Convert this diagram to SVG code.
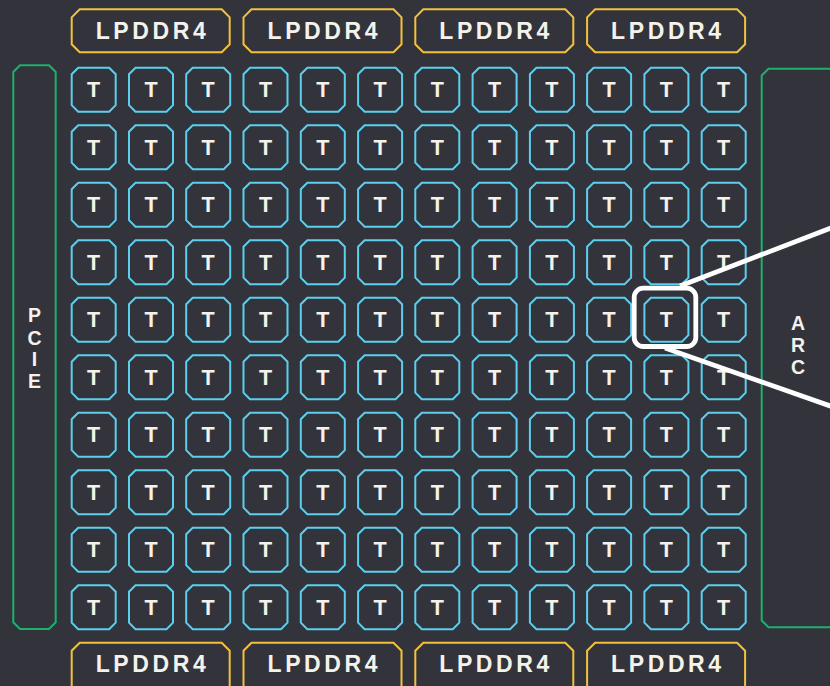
<svg xmlns="http://www.w3.org/2000/svg" xmlns:xlink="http://www.w3.org/1999/xlink" width="830" height="686" viewBox="0 0 830 686">
<style>
.tile{fill:none;stroke:#5ccfee;stroke-width:2}
.mem{fill:none;stroke:#f4c13f;stroke-width:2}
.io{fill:none;stroke:#1db070;stroke-width:2}
.tl{font-family:"Liberation Sans",Arial,sans-serif;font-weight:bold;font-size:21.5px;fill:#f4f2ea;text-anchor:middle}
.ml{font-family:"Liberation Sans",Arial,sans-serif;font-weight:bold;font-size:23px;fill:#f4f2ea;text-anchor:middle;letter-spacing:3.6px}
.vl{font-family:"Liberation Sans",Arial,sans-serif;font-weight:bold;font-size:19.5px;fill:#f4f2ea;text-anchor:middle}
.hl{fill:none;stroke:#ffffff;stroke-width:4.8}
</style>
<defs>
<polygon id="tp" points="6.5,0 37.5,0 44,6.5 44,37.5 37.5,44 6.5,44 0,37.5 0,6.5"/>
<polygon id="mp" points="8,0 150,0 158,8 158,35 150,43 8,43 0,35 0,8"/>
<polygon id="mpb" points="8,0 150,0 158,8 158,60 0,60 0,8"/>
</defs>
<rect x="0" y="0" width="830" height="686" fill="#32333b"/>

<g id="pcie"><polygon class="io" points="20,65.3 49,65.3 55.7,72 55.7,622.3 49,629 20,629 13.3,622.3 13.3,72"/>
<text class="vl"><tspan x="34.5" y="322">P</tspan><tspan x="34.5" y="345">C</tspan><tspan x="34.5" y="366">I</tspan><tspan x="34.5" y="388">E</tspan></text></g>
<g id="arc"><polygon class="io" points="768.5,68.7 850,68.7 850,627.3 768.5,627.3 761.7,620.5 761.7,75.5"/>
<text class="vl"><tspan x="798" y="330">A</tspan><tspan x="798" y="352">R</tspan><tspan x="798" y="374">C</tspan></text></g>

<g id="lpddr4-t1" transform="translate(71.7,9.3)"><use href="#mp" class="mem"/><text class="ml" x="80.8" y="30">LPDDR4</text></g>
<g id="lpddr4-t2" transform="translate(243.5,9.3)"><use href="#mp" class="mem"/><text class="ml" x="80.8" y="30">LPDDR4</text></g>
<g id="lpddr4-t3" transform="translate(415.3,9.3)"><use href="#mp" class="mem"/><text class="ml" x="80.8" y="30">LPDDR4</text></g>
<g id="lpddr4-t4" transform="translate(587.1,9.3)"><use href="#mp" class="mem"/><text class="ml" x="80.8" y="30">LPDDR4</text></g>
<g id="lpddr4-b1" transform="translate(71.7,642.7)"><use href="#mpb" class="mem"/><text class="ml" x="80.8" y="29">LPDDR4</text></g>
<g id="lpddr4-b2" transform="translate(243.5,642.7)"><use href="#mpb" class="mem"/><text class="ml" x="80.8" y="29">LPDDR4</text></g>
<g id="lpddr4-b3" transform="translate(415.3,642.7)"><use href="#mpb" class="mem"/><text class="ml" x="80.8" y="29">LPDDR4</text></g>
<g id="lpddr4-b4" transform="translate(587.1,642.7)"><use href="#mpb" class="mem"/><text class="ml" x="80.8" y="29">LPDDR4</text></g>

<g id="tiles">
<g id="t-0-0" transform="translate(71.7,67.7)"><use href="#tp" class="tile"/><text class="tl" x="22" y="29.5">T</text></g>
<g id="t-0-1" transform="translate(129,67.7)"><use href="#tp" class="tile"/><text class="tl" x="22" y="29.5">T</text></g>
<g id="t-0-2" transform="translate(186.2,67.7)"><use href="#tp" class="tile"/><text class="tl" x="22" y="29.5">T</text></g>
<g id="t-0-3" transform="translate(243.5,67.7)"><use href="#tp" class="tile"/><text class="tl" x="22" y="29.5">T</text></g>
<g id="t-0-4" transform="translate(300.8,67.7)"><use href="#tp" class="tile"/><text class="tl" x="22" y="29.5">T</text></g>
<g id="t-0-5" transform="translate(358.1,67.7)"><use href="#tp" class="tile"/><text class="tl" x="22" y="29.5">T</text></g>
<g id="t-0-6" transform="translate(415.3,67.7)"><use href="#tp" class="tile"/><text class="tl" x="22" y="29.5">T</text></g>
<g id="t-0-7" transform="translate(472.6,67.7)"><use href="#tp" class="tile"/><text class="tl" x="22" y="29.5">T</text></g>
<g id="t-0-8" transform="translate(529.9,67.7)"><use href="#tp" class="tile"/><text class="tl" x="22" y="29.5">T</text></g>
<g id="t-0-9" transform="translate(587.1,67.7)"><use href="#tp" class="tile"/><text class="tl" x="22" y="29.5">T</text></g>
<g id="t-0-10" transform="translate(644.4,67.7)"><use href="#tp" class="tile"/><text class="tl" x="22" y="29.5">T</text></g>
<g id="t-0-11" transform="translate(701.7,67.7)"><use href="#tp" class="tile"/><text class="tl" x="22" y="29.5">T</text></g>
<g id="t-1-0" transform="translate(71.7,125.2)"><use href="#tp" class="tile"/><text class="tl" x="22" y="29.5">T</text></g>
<g id="t-1-1" transform="translate(129,125.2)"><use href="#tp" class="tile"/><text class="tl" x="22" y="29.5">T</text></g>
<g id="t-1-2" transform="translate(186.2,125.2)"><use href="#tp" class="tile"/><text class="tl" x="22" y="29.5">T</text></g>
<g id="t-1-3" transform="translate(243.5,125.2)"><use href="#tp" class="tile"/><text class="tl" x="22" y="29.5">T</text></g>
<g id="t-1-4" transform="translate(300.8,125.2)"><use href="#tp" class="tile"/><text class="tl" x="22" y="29.5">T</text></g>
<g id="t-1-5" transform="translate(358.1,125.2)"><use href="#tp" class="tile"/><text class="tl" x="22" y="29.5">T</text></g>
<g id="t-1-6" transform="translate(415.3,125.2)"><use href="#tp" class="tile"/><text class="tl" x="22" y="29.5">T</text></g>
<g id="t-1-7" transform="translate(472.6,125.2)"><use href="#tp" class="tile"/><text class="tl" x="22" y="29.5">T</text></g>
<g id="t-1-8" transform="translate(529.9,125.2)"><use href="#tp" class="tile"/><text class="tl" x="22" y="29.5">T</text></g>
<g id="t-1-9" transform="translate(587.1,125.2)"><use href="#tp" class="tile"/><text class="tl" x="22" y="29.5">T</text></g>
<g id="t-1-10" transform="translate(644.4,125.2)"><use href="#tp" class="tile"/><text class="tl" x="22" y="29.5">T</text></g>
<g id="t-1-11" transform="translate(701.7,125.2)"><use href="#tp" class="tile"/><text class="tl" x="22" y="29.5">T</text></g>
<g id="t-2-0" transform="translate(71.7,182.7)"><use href="#tp" class="tile"/><text class="tl" x="22" y="29.5">T</text></g>
<g id="t-2-1" transform="translate(129,182.7)"><use href="#tp" class="tile"/><text class="tl" x="22" y="29.5">T</text></g>
<g id="t-2-2" transform="translate(186.2,182.7)"><use href="#tp" class="tile"/><text class="tl" x="22" y="29.5">T</text></g>
<g id="t-2-3" transform="translate(243.5,182.7)"><use href="#tp" class="tile"/><text class="tl" x="22" y="29.5">T</text></g>
<g id="t-2-4" transform="translate(300.8,182.7)"><use href="#tp" class="tile"/><text class="tl" x="22" y="29.5">T</text></g>
<g id="t-2-5" transform="translate(358.1,182.7)"><use href="#tp" class="tile"/><text class="tl" x="22" y="29.5">T</text></g>
<g id="t-2-6" transform="translate(415.3,182.7)"><use href="#tp" class="tile"/><text class="tl" x="22" y="29.5">T</text></g>
<g id="t-2-7" transform="translate(472.6,182.7)"><use href="#tp" class="tile"/><text class="tl" x="22" y="29.5">T</text></g>
<g id="t-2-8" transform="translate(529.9,182.7)"><use href="#tp" class="tile"/><text class="tl" x="22" y="29.5">T</text></g>
<g id="t-2-9" transform="translate(587.1,182.7)"><use href="#tp" class="tile"/><text class="tl" x="22" y="29.5">T</text></g>
<g id="t-2-10" transform="translate(644.4,182.7)"><use href="#tp" class="tile"/><text class="tl" x="22" y="29.5">T</text></g>
<g id="t-2-11" transform="translate(701.7,182.7)"><use href="#tp" class="tile"/><text class="tl" x="22" y="29.5">T</text></g>
<g id="t-3-0" transform="translate(71.7,240.2)"><use href="#tp" class="tile"/><text class="tl" x="22" y="29.5">T</text></g>
<g id="t-3-1" transform="translate(129,240.2)"><use href="#tp" class="tile"/><text class="tl" x="22" y="29.5">T</text></g>
<g id="t-3-2" transform="translate(186.2,240.2)"><use href="#tp" class="tile"/><text class="tl" x="22" y="29.5">T</text></g>
<g id="t-3-3" transform="translate(243.5,240.2)"><use href="#tp" class="tile"/><text class="tl" x="22" y="29.5">T</text></g>
<g id="t-3-4" transform="translate(300.8,240.2)"><use href="#tp" class="tile"/><text class="tl" x="22" y="29.5">T</text></g>
<g id="t-3-5" transform="translate(358.1,240.2)"><use href="#tp" class="tile"/><text class="tl" x="22" y="29.5">T</text></g>
<g id="t-3-6" transform="translate(415.3,240.2)"><use href="#tp" class="tile"/><text class="tl" x="22" y="29.5">T</text></g>
<g id="t-3-7" transform="translate(472.6,240.2)"><use href="#tp" class="tile"/><text class="tl" x="22" y="29.5">T</text></g>
<g id="t-3-8" transform="translate(529.9,240.2)"><use href="#tp" class="tile"/><text class="tl" x="22" y="29.5">T</text></g>
<g id="t-3-9" transform="translate(587.1,240.2)"><use href="#tp" class="tile"/><text class="tl" x="22" y="29.5">T</text></g>
<g id="t-3-10" transform="translate(644.4,240.2)"><use href="#tp" class="tile"/><text class="tl" x="22" y="29.5">T</text></g>
<g id="t-3-11" transform="translate(701.7,240.2)"><use href="#tp" class="tile"/><text class="tl" x="22" y="29.5">T</text></g>
<g id="t-4-0" transform="translate(71.7,297.7)"><use href="#tp" class="tile"/><text class="tl" x="22" y="29.5">T</text></g>
<g id="t-4-1" transform="translate(129,297.7)"><use href="#tp" class="tile"/><text class="tl" x="22" y="29.5">T</text></g>
<g id="t-4-2" transform="translate(186.2,297.7)"><use href="#tp" class="tile"/><text class="tl" x="22" y="29.5">T</text></g>
<g id="t-4-3" transform="translate(243.5,297.7)"><use href="#tp" class="tile"/><text class="tl" x="22" y="29.5">T</text></g>
<g id="t-4-4" transform="translate(300.8,297.7)"><use href="#tp" class="tile"/><text class="tl" x="22" y="29.5">T</text></g>
<g id="t-4-5" transform="translate(358.1,297.7)"><use href="#tp" class="tile"/><text class="tl" x="22" y="29.5">T</text></g>
<g id="t-4-6" transform="translate(415.3,297.7)"><use href="#tp" class="tile"/><text class="tl" x="22" y="29.5">T</text></g>
<g id="t-4-7" transform="translate(472.6,297.7)"><use href="#tp" class="tile"/><text class="tl" x="22" y="29.5">T</text></g>
<g id="t-4-8" transform="translate(529.9,297.7)"><use href="#tp" class="tile"/><text class="tl" x="22" y="29.5">T</text></g>
<g id="t-4-9" transform="translate(587.1,297.7)"><use href="#tp" class="tile"/><text class="tl" x="22" y="29.5">T</text></g>
<g id="t-4-10" transform="translate(644.4,297.7)"><use href="#tp" class="tile"/><text class="tl" x="22" y="29.5">T</text></g>
<g id="t-4-11" transform="translate(701.7,297.7)"><use href="#tp" class="tile"/><text class="tl" x="22" y="29.5">T</text></g>
<g id="t-5-0" transform="translate(71.7,355.2)"><use href="#tp" class="tile"/><text class="tl" x="22" y="29.5">T</text></g>
<g id="t-5-1" transform="translate(129,355.2)"><use href="#tp" class="tile"/><text class="tl" x="22" y="29.5">T</text></g>
<g id="t-5-2" transform="translate(186.2,355.2)"><use href="#tp" class="tile"/><text class="tl" x="22" y="29.5">T</text></g>
<g id="t-5-3" transform="translate(243.5,355.2)"><use href="#tp" class="tile"/><text class="tl" x="22" y="29.5">T</text></g>
<g id="t-5-4" transform="translate(300.8,355.2)"><use href="#tp" class="tile"/><text class="tl" x="22" y="29.5">T</text></g>
<g id="t-5-5" transform="translate(358.1,355.2)"><use href="#tp" class="tile"/><text class="tl" x="22" y="29.5">T</text></g>
<g id="t-5-6" transform="translate(415.3,355.2)"><use href="#tp" class="tile"/><text class="tl" x="22" y="29.5">T</text></g>
<g id="t-5-7" transform="translate(472.6,355.2)"><use href="#tp" class="tile"/><text class="tl" x="22" y="29.5">T</text></g>
<g id="t-5-8" transform="translate(529.9,355.2)"><use href="#tp" class="tile"/><text class="tl" x="22" y="29.5">T</text></g>
<g id="t-5-9" transform="translate(587.1,355.2)"><use href="#tp" class="tile"/><text class="tl" x="22" y="29.5">T</text></g>
<g id="t-5-10" transform="translate(644.4,355.2)"><use href="#tp" class="tile"/><text class="tl" x="22" y="29.5">T</text></g>
<g id="t-5-11" transform="translate(701.7,355.2)"><use href="#tp" class="tile"/><text class="tl" x="22" y="29.5">T</text></g>
<g id="t-6-0" transform="translate(71.7,412.7)"><use href="#tp" class="tile"/><text class="tl" x="22" y="29.5">T</text></g>
<g id="t-6-1" transform="translate(129,412.7)"><use href="#tp" class="tile"/><text class="tl" x="22" y="29.5">T</text></g>
<g id="t-6-2" transform="translate(186.2,412.7)"><use href="#tp" class="tile"/><text class="tl" x="22" y="29.5">T</text></g>
<g id="t-6-3" transform="translate(243.5,412.7)"><use href="#tp" class="tile"/><text class="tl" x="22" y="29.5">T</text></g>
<g id="t-6-4" transform="translate(300.8,412.7)"><use href="#tp" class="tile"/><text class="tl" x="22" y="29.5">T</text></g>
<g id="t-6-5" transform="translate(358.1,412.7)"><use href="#tp" class="tile"/><text class="tl" x="22" y="29.5">T</text></g>
<g id="t-6-6" transform="translate(415.3,412.7)"><use href="#tp" class="tile"/><text class="tl" x="22" y="29.5">T</text></g>
<g id="t-6-7" transform="translate(472.6,412.7)"><use href="#tp" class="tile"/><text class="tl" x="22" y="29.5">T</text></g>
<g id="t-6-8" transform="translate(529.9,412.7)"><use href="#tp" class="tile"/><text class="tl" x="22" y="29.5">T</text></g>
<g id="t-6-9" transform="translate(587.1,412.7)"><use href="#tp" class="tile"/><text class="tl" x="22" y="29.5">T</text></g>
<g id="t-6-10" transform="translate(644.4,412.7)"><use href="#tp" class="tile"/><text class="tl" x="22" y="29.5">T</text></g>
<g id="t-6-11" transform="translate(701.7,412.7)"><use href="#tp" class="tile"/><text class="tl" x="22" y="29.5">T</text></g>
<g id="t-7-0" transform="translate(71.7,470.2)"><use href="#tp" class="tile"/><text class="tl" x="22" y="29.5">T</text></g>
<g id="t-7-1" transform="translate(129,470.2)"><use href="#tp" class="tile"/><text class="tl" x="22" y="29.5">T</text></g>
<g id="t-7-2" transform="translate(186.2,470.2)"><use href="#tp" class="tile"/><text class="tl" x="22" y="29.5">T</text></g>
<g id="t-7-3" transform="translate(243.5,470.2)"><use href="#tp" class="tile"/><text class="tl" x="22" y="29.5">T</text></g>
<g id="t-7-4" transform="translate(300.8,470.2)"><use href="#tp" class="tile"/><text class="tl" x="22" y="29.5">T</text></g>
<g id="t-7-5" transform="translate(358.1,470.2)"><use href="#tp" class="tile"/><text class="tl" x="22" y="29.5">T</text></g>
<g id="t-7-6" transform="translate(415.3,470.2)"><use href="#tp" class="tile"/><text class="tl" x="22" y="29.5">T</text></g>
<g id="t-7-7" transform="translate(472.6,470.2)"><use href="#tp" class="tile"/><text class="tl" x="22" y="29.5">T</text></g>
<g id="t-7-8" transform="translate(529.9,470.2)"><use href="#tp" class="tile"/><text class="tl" x="22" y="29.5">T</text></g>
<g id="t-7-9" transform="translate(587.1,470.2)"><use href="#tp" class="tile"/><text class="tl" x="22" y="29.5">T</text></g>
<g id="t-7-10" transform="translate(644.4,470.2)"><use href="#tp" class="tile"/><text class="tl" x="22" y="29.5">T</text></g>
<g id="t-7-11" transform="translate(701.7,470.2)"><use href="#tp" class="tile"/><text class="tl" x="22" y="29.5">T</text></g>
<g id="t-8-0" transform="translate(71.7,527.7)"><use href="#tp" class="tile"/><text class="tl" x="22" y="29.5">T</text></g>
<g id="t-8-1" transform="translate(129,527.7)"><use href="#tp" class="tile"/><text class="tl" x="22" y="29.5">T</text></g>
<g id="t-8-2" transform="translate(186.2,527.7)"><use href="#tp" class="tile"/><text class="tl" x="22" y="29.5">T</text></g>
<g id="t-8-3" transform="translate(243.5,527.7)"><use href="#tp" class="tile"/><text class="tl" x="22" y="29.5">T</text></g>
<g id="t-8-4" transform="translate(300.8,527.7)"><use href="#tp" class="tile"/><text class="tl" x="22" y="29.5">T</text></g>
<g id="t-8-5" transform="translate(358.1,527.7)"><use href="#tp" class="tile"/><text class="tl" x="22" y="29.5">T</text></g>
<g id="t-8-6" transform="translate(415.3,527.7)"><use href="#tp" class="tile"/><text class="tl" x="22" y="29.5">T</text></g>
<g id="t-8-7" transform="translate(472.6,527.7)"><use href="#tp" class="tile"/><text class="tl" x="22" y="29.5">T</text></g>
<g id="t-8-8" transform="translate(529.9,527.7)"><use href="#tp" class="tile"/><text class="tl" x="22" y="29.5">T</text></g>
<g id="t-8-9" transform="translate(587.1,527.7)"><use href="#tp" class="tile"/><text class="tl" x="22" y="29.5">T</text></g>
<g id="t-8-10" transform="translate(644.4,527.7)"><use href="#tp" class="tile"/><text class="tl" x="22" y="29.5">T</text></g>
<g id="t-8-11" transform="translate(701.7,527.7)"><use href="#tp" class="tile"/><text class="tl" x="22" y="29.5">T</text></g>
<g id="t-9-0" transform="translate(71.7,585.2)"><use href="#tp" class="tile"/><text class="tl" x="22" y="29.5">T</text></g>
<g id="t-9-1" transform="translate(129,585.2)"><use href="#tp" class="tile"/><text class="tl" x="22" y="29.5">T</text></g>
<g id="t-9-2" transform="translate(186.2,585.2)"><use href="#tp" class="tile"/><text class="tl" x="22" y="29.5">T</text></g>
<g id="t-9-3" transform="translate(243.5,585.2)"><use href="#tp" class="tile"/><text class="tl" x="22" y="29.5">T</text></g>
<g id="t-9-4" transform="translate(300.8,585.2)"><use href="#tp" class="tile"/><text class="tl" x="22" y="29.5">T</text></g>
<g id="t-9-5" transform="translate(358.1,585.2)"><use href="#tp" class="tile"/><text class="tl" x="22" y="29.5">T</text></g>
<g id="t-9-6" transform="translate(415.3,585.2)"><use href="#tp" class="tile"/><text class="tl" x="22" y="29.5">T</text></g>
<g id="t-9-7" transform="translate(472.6,585.2)"><use href="#tp" class="tile"/><text class="tl" x="22" y="29.5">T</text></g>
<g id="t-9-8" transform="translate(529.9,585.2)"><use href="#tp" class="tile"/><text class="tl" x="22" y="29.5">T</text></g>
<g id="t-9-9" transform="translate(587.1,585.2)"><use href="#tp" class="tile"/><text class="tl" x="22" y="29.5">T</text></g>
<g id="t-9-10" transform="translate(644.4,585.2)"><use href="#tp" class="tile"/><text class="tl" x="22" y="29.5">T</text></g>
<g id="t-9-11" transform="translate(701.7,585.2)"><use href="#tp" class="tile"/><text class="tl" x="22" y="29.5">T</text></g>
</g>

<g id="highlight"><rect class="hl" x="634.2" y="288.2" width="61.6" height="58.3" rx="9"/></g>
<g id="connectors">
<line class="hl" x1="680" y1="286" x2="836" y2="226"/>
<line class="hl" x1="665" y1="348" x2="836" y2="408"/>
</g>
</svg>
